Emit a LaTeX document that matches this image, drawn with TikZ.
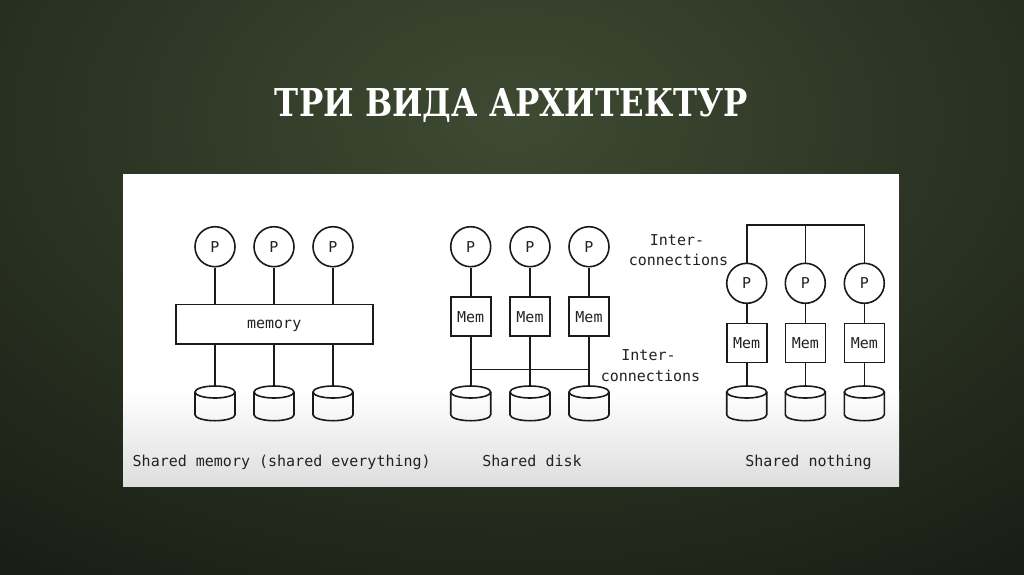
\documentclass[tikz,border=0pt]{standalone}
\usepackage{fontspec}
\newfontfamily\monofont{DejaVu Sans Mono}
\newfontfamily\titlefont{DejaVu Serif}
\usetikzlibrary{calc}
\definecolor{bgin}{HTML}{3E4A32}
\definecolor{bgout}{HTML}{131710}
\definecolor{ink}{HTML}{1A1A1A}
\definecolor{txt}{HTML}{222222}
\newcommand\mydisk[3]{%
  \node[diskbox] (#1) at (#2,#3+17.35) {};
  \draw[ln] (#2,#3+6) ellipse [x radius=20, y radius=6];
  \draw[ln] (#2-20,#3+6) -- (#2-20,#3+28.7) arc [start angle=180, end angle=0, x radius=20, y radius=6] -- (#2+20,#3+6);
}
\begin{document}
\begin{tikzpicture}[x=1pt,y=-1pt,
  ln/.style={draw=ink, line width=1.6pt},
  inner/.style={text=txt, text height=10.9pt, text depth=0pt, font=\monofont\fontsize{15}{18}\selectfont},
  proc/.style={circle, draw=ink, line width=1.6pt, minimum size=40pt, inner sep=0pt, inner},
  membox/.style={rectangle, draw=ink, line width=1.6pt, minimum width=40pt, minimum height=39pt, inner sep=0pt, inner},
  diskbox/.style={rectangle, minimum width=40pt, minimum height=34.7pt, inner sep=0pt},
  lbl/.style={text=txt, inner sep=0pt, anchor=base, font=\monofont\fontsize{15}{18}\selectfont},
  ttl/.style={inner sep=0pt, anchor=base, font=\titlefont\bfseries}
]
\useasboundingbox (0,0) rectangle (1024,574);
\fill[bgout] (0,0) rectangle (1024,574);
\shade[inner color=bgin, outer color=bgout] (512,120) ellipse [x radius=1000, y radius=640];
% title
\node[ttl, text=white] (title) at (511.5,116.5) {\resizebox{473pt}{28pt}{ТРИ ВИДА АРХИТЕКТУР}};
% panel
\fill[white] (123,174) rectangle (899,391);
\shade[top color=white, bottom color=black!13] (123,390) rectangle (899,486);
% ---- shared memory
\node[proc] (p1) at (215,246.7) {P};
\node[proc] (p2) at (274,246.7) {P};
\node[proc] (p3) at (333,246.7) {P};
\node[membox, minimum width=197pt, minimum height=39.3pt, text depth=0pt, text height=9pt] (mem) at (274.2,324.3) {memory};
\mydisk{d1}{215}{386}
\mydisk{d2}{274}{386}
\mydisk{d3}{333}{386}
\foreach \i/\j in {p1/d1,p2/d2,p3/d3}{
  \draw[ln] (\i.south) -- (\i.south |- mem.north);
  \draw[ln] (\j.north |- mem.south) -- (\j.north);
}
\node[lbl] (l1) at (281.7,466.7) {Shared memory (shared everything)};
% ---- shared disk
\node[proc] (p4) at (470.7,246.7) {P};
\node[proc] (p5) at (530,246.7) {P};
\node[proc] (p6) at (589,246.7) {P};
\node[membox] (m4) at (470.7,316.7) {Mem};
\node[membox] (m5) at (530,316.7) {Mem};
\node[membox] (m6) at (589,316.7) {Mem};
\mydisk{d4}{470.7}{386}
\mydisk{d5}{530}{386}
\mydisk{d6}{589}{386}
\coordinate (bus) at (530,369.3);
\foreach \i/\m/\j in {p4/m4/d4,p5/m5/d5,p6/m6/d6}{
  \draw[ln] (\i.south) -- (\m.north);
  \draw[ln] (\m.south) -- (\j.north);
}
\draw[ln] (d4.north |- bus) -- (d6.north |- bus);
\node[lbl] (ic1a) at (648.5,360.7) {Inter-};
\node[lbl] (ic1b) at (650.5,381.7) {connections};
\node[lbl] (l2) at (532,466.7) {Shared disk};
% ---- shared nothing
\node[proc] (p7) at (746.7,283.3) {P};
\node[proc] (p8) at (805.3,283.3) {P};
\node[proc] (p9) at (864.3,283.3) {P};
\node[membox] (m7) at (746.7,343) {Mem};
\node[membox] (m8) at (805.3,343) {Mem};
\node[membox] (m9) at (864.3,343) {Mem};
\mydisk{d7}{746.7}{386}
\mydisk{d8}{805.3}{386}
\mydisk{d9}{864.3}{386}
\coordinate (tbus) at (805.3,225);
\foreach \i/\m/\j in {p7/m7/d7,p8/m8/d8,p9/m9/d9}{
  \draw[ln] (\i.south) -- (\m.north);
  \draw[ln] (\m.south) -- (\j.north);
}
\draw[ln] (p7.north) -- (p7.north |- tbus) -- (p9.north |- tbus) -- (p9.north);
\draw[ln] (p8.north) -- (tbus);
\node[lbl] (ic2a) at (677,245) {Inter-};
\node[lbl] (ic2b) at (678.5,265.7) {connections};
\node[lbl] (l3) at (808.5,466.7) {Shared nothing};
\end{tikzpicture}
\end{document}
